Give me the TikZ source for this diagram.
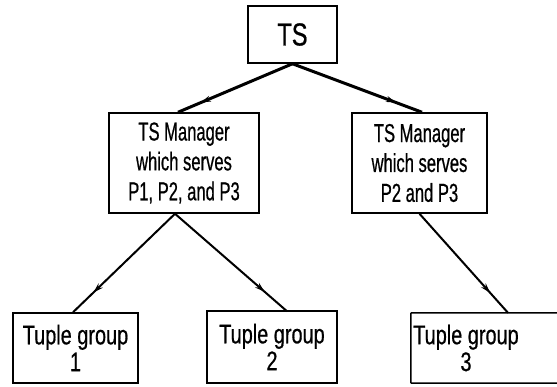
\documentclass[tikz,border=0pt]{standalone}
\usepackage{fontspec}
\setmainfont{Liberation Sans}[FakeStretch=0.74,FakeBold=0.6]
\newfontfamily\narrowfont{Liberation Sans}[FakeStretch=0.64,FakeBold=0.6]
\usetikzlibrary{decorations.markings,arrows.meta}
\begin{document}
\begin{tikzpicture}[x=1bp,y=-1bp,
  box/.style={draw,line width=1.5bp,rectangle,inner sep=0pt,align=center},
  link/.style={line width=#1,
    postaction={decorate},
    decoration={markings,mark=at position 0.8 with {\arrow{Stealth[length=10bp,width=6bp]}}}},
  link/.default=2bp]
  \useasboundingbox (0,0) rectangle (557,386);
  \begin{scope}
  \clip (0,0) rectangle (557,386);
  % root
  \node[box,minimum width=89bp,minimum height=57bp,font=\fontsize{32}{36}\selectfont]
    (ts) at (292.5,34.5) {TS};
  % managers
  \node[box,minimum width=150bp,minimum height=100bp,font=\narrowfont\fontsize{26}{30}\selectfont]
    (m1) at (184,163) {TS Manager\\which serves\\P1, P2, and P3};
  \node[box,minimum width=135bp,minimum height=100bp,font=\narrowfont\fontsize{26}{30}\selectfont]
    (m2) at (419.5,163) {TS Manager\\which serves\\P2 and P3};
  % tuple groups
  \node[box,minimum width=125bp,minimum height=70bp,font=\fontsize{27}{27}\selectfont]
    (t1) at (75.5,348) {Tuple group\\1};
  \node[box,minimum width=130bp,minimum height=72bp,font=\fontsize{27}{27}\selectfont]
    (t2) at (272,347) {Tuple group\\2};
  \node[minimum width=110bp,minimum height=70bp,inner sep=0pt,align=center,
    font=\fontsize{27}{27}\selectfont]
    (t3) at (466,348) {Tuple group\\3};
  \draw[line width=1.5bp] (t3.west|-t3.north) -- (566,313)
    (t3.west|-t3.south) -- (566,383)
    (t3.north west) -- (t3.south west);
  % connectors
  \draw[link=3bp] (ts.south) -- ([xshift=-6bp]m1.north);
  \draw[link=3bp] (ts.south) -- ([xshift=2.5bp]m2.north);
  \draw[link] ([xshift=-9bp]m1.south) -- ([xshift=-2.5bp]t1.north);
  \draw[link] ([xshift=-9bp]m1.south) -- ([xshift=15bp,yshift=-1bp]t2.north);
  \draw[link] (m2.south) -- ([xshift=42bp]t3.north);
  \end{scope}
\end{tikzpicture}
\end{document}
